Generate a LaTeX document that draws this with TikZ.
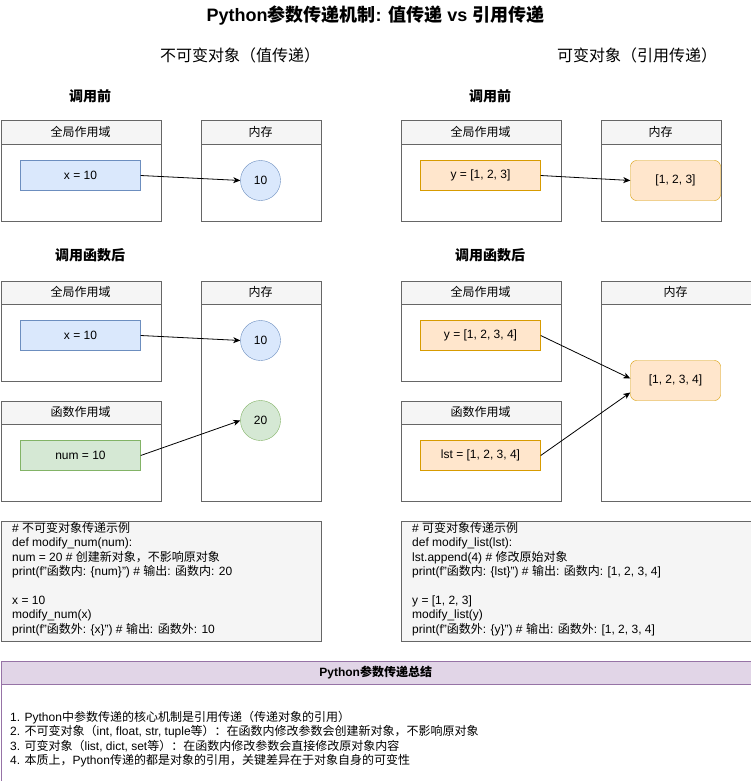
\documentclass[tikz,border=0pt]{standalone}
\usepackage{fontspec}
\setmainfont{Liberation Sans}
\newfontfamily\cjkfam{Noto Sans CJK SC}
\usetikzlibrary{arrows.meta}
\newXeTeXintercharclass\cjkclass
\newcount\cjkcnt
\cjkcnt="4E00
\loop\XeTeXcharclass\cjkcnt=\cjkclass\relax\advance\cjkcnt by 1\relax\ifnum\cjkcnt<"A000\repeat
\cjkcnt="3000
\loop\XeTeXcharclass\cjkcnt=\cjkclass\relax\advance\cjkcnt by 1\relax\ifnum\cjkcnt<"3040\repeat
\cjkcnt="FF00
\loop\XeTeXcharclass\cjkcnt=\cjkclass\relax\advance\cjkcnt by 1\relax\ifnum\cjkcnt<"FFF0\repeat
\XeTeXinterchartoks 0 \cjkclass={\cjkfam}
\XeTeXinterchartoks 4095 \cjkclass={\cjkfam}
\XeTeXinterchartoks \cjkclass 0={\rmfamily}
\XeTeXinterchartoks \cjkclass 4095={\rmfamily}
\XeTeXinterchartokenstate=1
\definecolor{hdrfill}{HTML}{F5F5F5}
\definecolor{grayd}{HTML}{666666}
\definecolor{bluef}{HTML}{DAE8FC}
\definecolor{blued}{HTML}{6C8EBF}
\definecolor{greenf}{HTML}{D5E8D4}
\definecolor{greend}{HTML}{82B366}
\definecolor{orangef}{HTML}{FFE6CC}
\definecolor{oranged}{HTML}{D79B00}
\definecolor{purplef}{HTML}{E1D5E7}
\definecolor{purpled}{HTML}{9673A6}
\begin{document}
\begin{tikzpicture}[x=1pt,y=-1pt,
  font=\fontsize{12}{14.4}\selectfont,
  panel/.style={draw=grayd,fill=white,anchor=north west,inner sep=0pt},
  hdr/.style={draw=grayd,fill=hdrfill,anchor=north west,inner sep=0pt,minimum height=23pt},
  bvar/.style={draw=blued,fill=bluef,minimum width=120pt,minimum height=30pt,inner sep=0pt},
  gvar/.style={draw=greend,fill=greenf,minimum width=120pt,minimum height=30pt,inner sep=0pt},
  ovar/.style={draw=oranged,fill=orangef,minimum width=120pt,minimum height=30pt,inner sep=0pt},
  omem/.style={draw=oranged,fill=orangef,rounded corners=6pt,minimum width=90pt,minimum height=40pt,inner sep=0pt},
  bcirc/.style={circle,draw=blued,fill=bluef,minimum size=40pt,inner sep=0pt},
  gcirc/.style={circle,draw=greend,fill=greenf,minimum size=40pt,inner sep=0pt},
  codebox/.style={draw=grayd,fill=hdrfill,anchor=north west,inner sep=0pt,minimum height=120pt},
  codetext/.style={anchor=north west,align=left,inner sep=0pt,font=\fontsize{12}{14.4}\selectfont},
  arr/.style={-{Stealth[length=7pt,width=6pt,inset=2pt]},line width=0.8pt,black},
  heading/.style={font=\fontsize{16}{18}\selectfont},
  phase/.style={font=\bfseries\fontsize{14}{16}\selectfont}]
\useasboundingbox (0,0) rectangle (751,781);

\node[font=\bfseries\fontsize{18}{20}\selectfont] (title) at (375.5,16) {Python参数传递机制: 值传递 vs 引用传递};
\node[heading] (subL) at (240,55) {不可变对象（值传递）};
\node[heading] (subR) at (637,55) {可变对象（引用传递）};
\node[phase] (preL) at (90,96) {调用前};
\node[phase] (preR) at (490,96) {调用前};
\node[phase] (postL) at (90,255) {调用函数后};
\node[phase] (postR) at (490,255) {调用函数后};

% left, before call
\node[panel,minimum width=160pt,minimum height=100pt] (gA) at (0.5,120.5) {};
\node[hdr,minimum width=160pt] (gAh) at (gA.north west) {全局作用域};
\node[panel,minimum width=120pt,minimum height=100pt] (mA) at (200.5,120.5) {};
\node[hdr,minimum width=120pt] (mAh) at (mA.north west) {内存};
\node[bvar] (xA) at (80.5,175.5) {x = 10};
\node[bcirc] (cA) at (260.5,180.5) {10};
\draw[arr] (xA.east) -- (cA.west);

% right, before call
\node[panel,minimum width=160pt,minimum height=100pt] (gB) at (400.5,120.5) {};
\node[hdr,minimum width=160pt] (gBh) at (gB.north west) {全局作用域};
\node[panel,minimum width=120pt,minimum height=100pt] (mB) at (600.5,120.5) {};
\node[hdr,minimum width=120pt] (mBh) at (mB.north west) {内存};
\node[ovar] (yB) at (480.5,175.5) {y = [1, 2, 3]};
\node[omem] (lB) at (675.5,180.5) {[1, 2, 3]};
\draw[arr] (yB.east) -- (lB.west);

% left, after call
\node[panel,minimum width=160pt,minimum height=100pt] (gC) at (0.5,280.5) {};
\node[hdr,minimum width=160pt] (gCh) at (gC.north west) {全局作用域};
\node[panel,minimum width=160pt,minimum height=100pt] (fC) at (0.5,400.5) {};
\node[hdr,minimum width=160pt] (fCh) at (fC.north west) {函数作用域};
\node[panel,minimum width=120pt,minimum height=220pt] (mC) at (200.5,280.5) {};
\node[hdr,minimum width=120pt] (mCh) at (mC.north west) {内存};
\node[bvar] (xC) at (80.5,335.5) {x = 10};
\node[bcirc] (c10) at (260.5,340.5) {10};
\node[gvar] (numC) at (80.5,455.5) {num = 10};
\node[gcirc] (c20) at (260.5,420.5) {20};
\draw[arr] (xC.east) -- (c10.west);
\draw[arr] (numC.east) -- (c20.west);

% right, after call
\node[panel,minimum width=160pt,minimum height=100pt] (gD) at (400.5,280.5) {};
\node[hdr,minimum width=160pt] (gDh) at (gD.north west) {全局作用域};
\node[panel,minimum width=160pt,minimum height=100pt] (fD) at (400.5,400.5) {};
\node[hdr,minimum width=160pt] (fDh) at (fD.north west) {函数作用域};
\node[panel,minimum width=150pt,minimum height=220pt] (mD) at (600.5,280.5) {};
\node[hdr,minimum width=150pt] (mDh) at (mD.north west) {内存};
\node[ovar] (yD) at (480.5,335.5) {y = [1, 2, 3, 4]};
\node[ovar] (lstD) at (480.5,455.5) {lst = [1, 2, 3, 4]};
\node[omem] (lD) at (675.5,380.5) {[1, 2, 3, 4]};
\draw[arr] (yD.east) -- ([yshift=2pt]lD.west);
\draw[arr] (lstD.east) -- ([yshift=-12pt]lD.west);

% code boxes
\node[codebox,minimum width=320pt] (codeL) at (0.5,520.5) {};
\node[codetext] (codeLt) at (12,522) {\# 不可变对象传递示例\\
def modify\_num(num):\\
num = 20 \# 创建新对象，不影响原对象\\
print(f"函数内: \{num\}") \# 输出: 函数内: 20\\[14.4pt]
x = 10\\
modify\_num(x)\\
print(f"函数外: \{x\}") \# 输出: 函数外: 10};

\node[codebox,minimum width=350pt] (codeR) at (400.5,520.5) {};
\node[codetext] (codeRt) at (412,522) {\# 可变对象传递示例\\
def modify\_list(lst):\\
lst.append(4) \# 修改原始对象\\
print(f"函数内: \{lst\}") \# 输出: 函数内: [1, 2, 3, 4]\\[14.4pt]
y = [1, 2, 3]\\
modify\_list(y)\\
print(f"函数外: \{y\}") \# 输出: 函数外: [1, 2, 3, 4]};

% summary
\node[panel,draw=purpled,minimum width=750pt,minimum height=120pt] (sum) at (0.5,660.5) {};
\node[hdr,draw=purpled,fill=purplef,minimum width=750pt,font=\bfseries\fontsize{12}{14}\selectfont] (sumh) at (sum.north west) {Python参数传递总结};
\node[codetext] (sumt) at (10,711) {1. Python中参数传递的核心机制是引用传递（传递对象的引用）\\
2. 不可变对象（int, float, str, tuple等）：在函数内修改参数会创建新对象，不影响原对象\\
3. 可变对象（list, dict, set等）：在函数内修改参数会直接修改原对象内容\\
4. 本质上，Python传递的都是对象的引用，关键差异在于对象自身的可变性};
\end{tikzpicture}
\end{document}
